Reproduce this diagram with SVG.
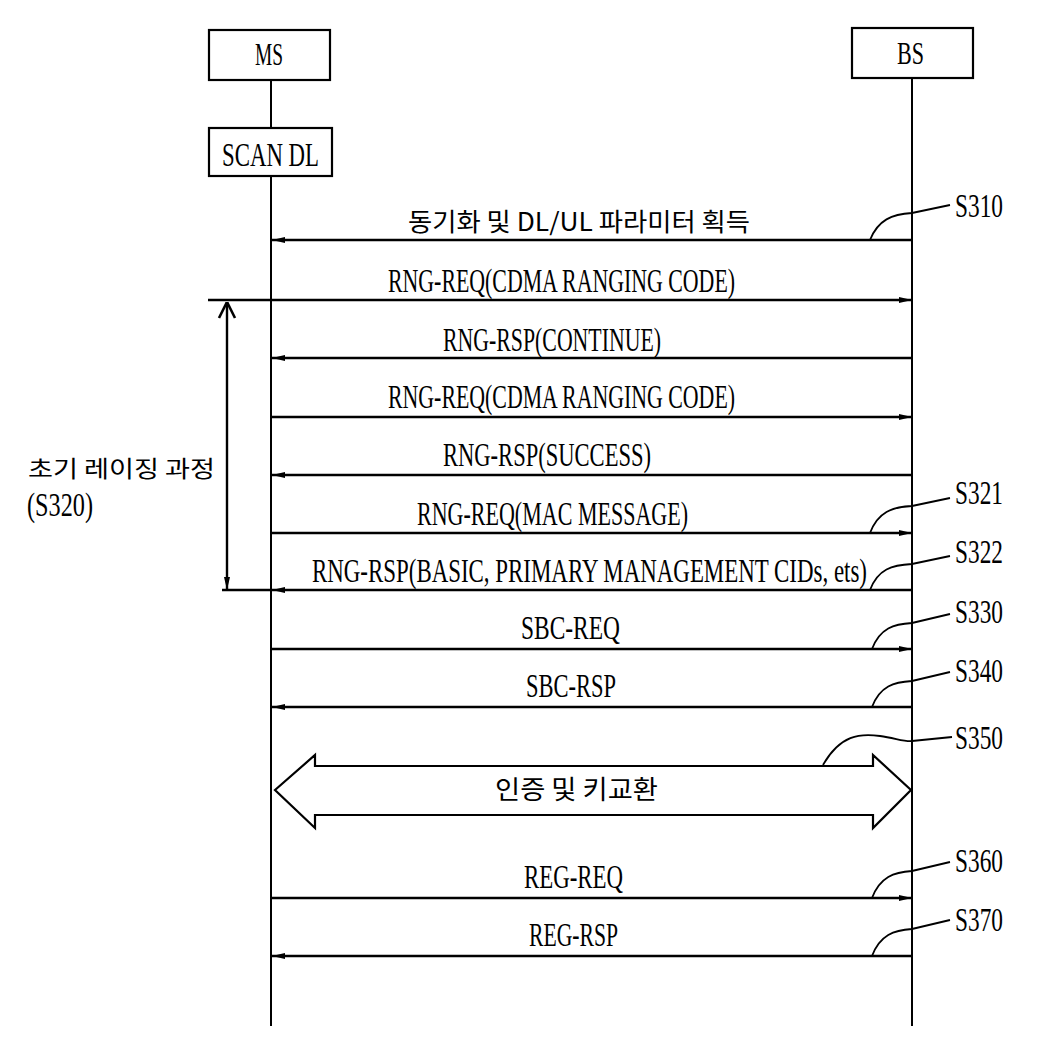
<svg xmlns="http://www.w3.org/2000/svg" width="1044" height="1051" viewBox="0 0 1044 1051">
<style>
.box{fill:#fff;stroke:#000;stroke-width:2.2}
.life{stroke:#000;stroke-width:2;fill:none}
.msg{stroke:#000;stroke-width:2.4;fill:none}
.lead{stroke:#000;stroke-width:1.8;fill:none}
.t{font-family:"Liberation Serif",serif;font-size:33px;fill:#000}
.s{font-family:"Liberation Serif",serif;font-size:33px;fill:#000}
.k{font-family:"Noto Sans CJK KR","Noto Sans",sans-serif;font-size:25px;fill:#000}
</style>
<defs>
<marker id="ah" markerUnits="userSpaceOnUse" markerWidth="14" markerHeight="8" refX="13" refY="4" orient="auto">
<path d="M0,1 L13,4 L0,7 Z" fill="#000"/>
</marker>
<marker id="bh" markerUnits="userSpaceOnUse" markerWidth="20" markerHeight="20" refX="0" refY="10" orient="auto">
<path d="M16,2 L0,10 L16,18" fill="none" stroke="#000" stroke-width="2.6"/>
</marker>
</defs>

<g id="node-ms">
<rect class="box" x="209" y="30" width="121" height="50"/>
<text class="t" x="255" y="65" textLength="28" lengthAdjust="spacingAndGlyphs" style="font-size:31px">MS</text>
</g>
<g id="node-bs">
<rect class="box" x="852" y="28" width="121" height="50"/>
<text class="t" x="897" y="64" textLength="27" lengthAdjust="spacingAndGlyphs" style="font-size:31px">BS</text>
</g>
<g id="node-scan">
<rect class="box" x="209" y="128" width="123" height="48"/>
<text class="t" x="222" y="166" textLength="97" lengthAdjust="spacingAndGlyphs" style="font-size:34px">SCAN DL</text>
</g>

<g id="connectors">
<line class="life" x1="271" y1="80" x2="271" y2="128"/>
<line class="life" x1="271" y1="176" x2="271" y2="1026"/>
<line class="life" x1="912" y1="78" x2="912" y2="1026"/>

<line class="msg" x1="912" y1="240" x2="272" y2="240" marker-end="url(#ah)"/>
<line class="msg" x1="208" y1="300" x2="912" y2="300" marker-end="url(#ah)"/>
<line class="msg" x1="912" y1="358" x2="272" y2="358" marker-end="url(#ah)"/>
<line class="msg" x1="271" y1="417" x2="912" y2="417" marker-end="url(#ah)"/>
<line class="msg" x1="912" y1="475" x2="272" y2="475" marker-end="url(#ah)"/>
<line class="msg" x1="271" y1="533" x2="912" y2="533" marker-end="url(#ah)"/>
<line class="msg" x1="912" y1="590" x2="272" y2="590" marker-end="url(#ah)"/>
<line class="msg" x1="271" y1="590" x2="222" y2="590"/>
<line class="msg" x1="271" y1="649" x2="912" y2="649" marker-end="url(#ah)"/>
<line class="msg" x1="912" y1="707" x2="272" y2="707" marker-end="url(#ah)"/>
<line class="msg" x1="271" y1="898" x2="912" y2="898" marker-end="url(#ah)"/>
<line class="msg" x1="912" y1="956" x2="272" y2="956" marker-end="url(#ah)"/>

<path d="M275,790 L315,755 L315,766 L873,766 L873,755 L911,790 L873,828 L873,815 L315,815 L315,828 Z" fill="none" stroke="#000" stroke-width="2.2" stroke-linejoin="miter"/>

<line x1="227" y1="302" x2="227" y2="590" stroke="#000" stroke-width="2.4" marker-start="url(#bh)" marker-end="url(#ah)"/>

<path class="lead" d="M870,240 C878,220 892,214 912,213 L950,205"/>
<path class="lead" d="M870,533 C878,512 892,507 912,506 L950,498"/>
<path class="lead" d="M870,590 C878,569 892,565 912,564 L950,556"/>
<path class="lead" d="M872,649 C880,628 894,624 912,623 L950,614"/>
<path class="lead" d="M872,707 C880,686 894,682 912,681 L950,672"/>
<path class="lead" d="M823,765 C840,735 860,733 880,736 C895,738 905,742 912,741 L952,737"/>
<path class="lead" d="M872,898 C880,877 894,872 912,871 L950,862"/>
<path class="lead" d="M872,956 C880,935 894,930 912,929 L950,920"/>
</g>

<g id="labels">
<text class="k" x="408" y="231" textLength="342" lengthAdjust="spacingAndGlyphs">동기화 및 DL/UL 파라미터 획득</text>
<text class="t" x="388" y="292" textLength="347" lengthAdjust="spacingAndGlyphs">RNG-REQ(CDMA RANGING CODE)</text>
<text class="t" x="443" y="351" textLength="218" lengthAdjust="spacingAndGlyphs">RNG-RSP(CONTINUE)</text>
<text class="t" x="388" y="408" textLength="347" lengthAdjust="spacingAndGlyphs">RNG-REQ(CDMA RANGING CODE)</text>
<text class="t" x="443" y="466" textLength="208" lengthAdjust="spacingAndGlyphs">RNG-RSP(SUCCESS)</text>
<text class="t" x="417" y="525" textLength="271" lengthAdjust="spacingAndGlyphs">RNG-REQ(MAC MESSAGE)</text>
<text class="t" x="312" y="582" textLength="555" lengthAdjust="spacingAndGlyphs">RNG-RSP(BASIC, PRIMARY MANAGEMENT CIDs, ets)</text>
<text class="t" x="521" y="639" textLength="99" lengthAdjust="spacingAndGlyphs">SBC-REQ</text>
<text class="t" x="526" y="697" textLength="90" lengthAdjust="spacingAndGlyphs">SBC-RSP</text>
<text class="k" x="495" y="799" textLength="163" lengthAdjust="spacingAndGlyphs" style="font-size:26px">인증 및 키교환</text>
<text class="t" x="524" y="888" textLength="99" lengthAdjust="spacingAndGlyphs">REG-REQ</text>
<text class="t" x="529" y="946" textLength="89" lengthAdjust="spacingAndGlyphs">REG-RSP</text>

<text class="k" x="28" y="477" textLength="187" lengthAdjust="spacingAndGlyphs" style="font-size:23px">초기 레이징 과정</text>
<text class="t" x="27" y="516" textLength="66" lengthAdjust="spacingAndGlyphs">(S320)</text>

<text class="s" x="955" y="217" textLength="48" lengthAdjust="spacingAndGlyphs">S310</text>
<text class="s" x="955" y="504" textLength="48" lengthAdjust="spacingAndGlyphs">S321</text>
<text class="s" x="955" y="563" textLength="48" lengthAdjust="spacingAndGlyphs">S322</text>
<text class="s" x="955" y="623" textLength="48" lengthAdjust="spacingAndGlyphs">S330</text>
<text class="s" x="955" y="682" textLength="48" lengthAdjust="spacingAndGlyphs">S340</text>
<text class="s" x="955" y="749" textLength="48" lengthAdjust="spacingAndGlyphs">S350</text>
<text class="s" x="955" y="872" textLength="48" lengthAdjust="spacingAndGlyphs">S360</text>
<text class="s" x="955" y="931" textLength="48" lengthAdjust="spacingAndGlyphs">S370</text>
</g>
</svg>
